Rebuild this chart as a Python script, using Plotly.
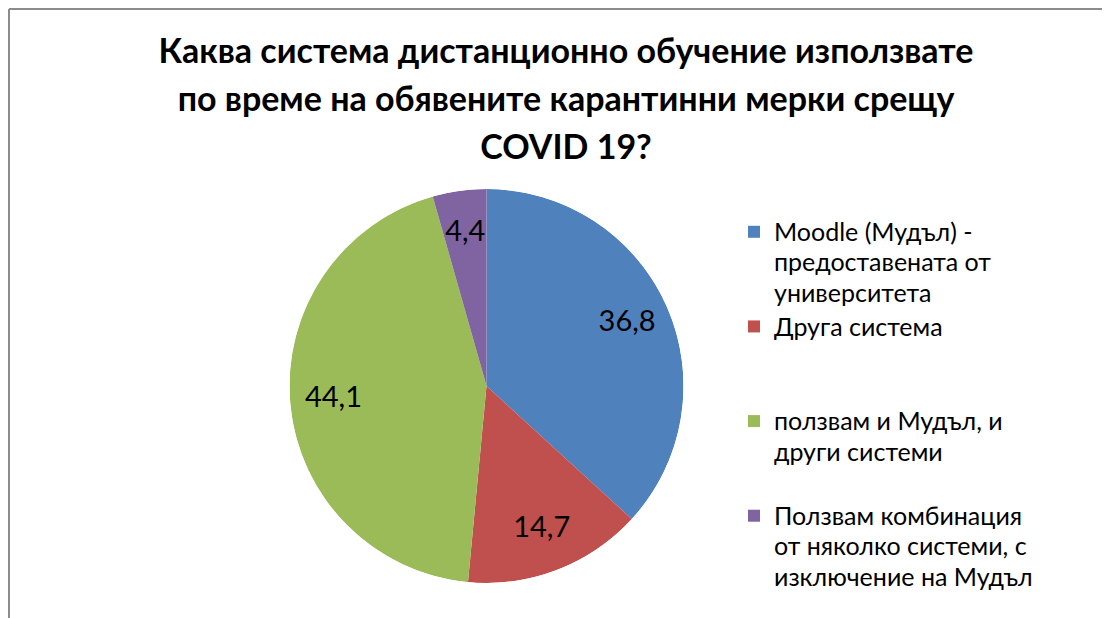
import plotly.graph_objects as go

# ---- data ----
categories = [
    "Moodle (Мудъл) - предоставената от университета",
    "Друга система",
    "ползвам и Мудъл, и други системи",
    "Ползвам комбинация от няколко системи, с изключение на Мудъл",
]
legend_lines = [
    ["Moodle (Мудъл) -", "предоставената от", "университета"],
    ["Друга система"],
    ["ползвам и Мудъл, и", "други системи"],
    ["Ползвам комбинация", "от няколко системи, с", "изключение на Мудъл"],
]
values = [36.8, 14.7, 44.1, 4.4]
colors = ["#4F81BD", "#C0504D", "#9BBB59", "#8064A2"]
title_lines = [
    "Каква система дистанционно обучение използвате",
    "по време на обявените карантинни мерки срещу",
    "COVID 19?",
]

# page body has an 8px margin; figure is sized to fit the window
W, H = 1102, 610
OFF = 8
FONT = "Lato"

total = sum(values)
thetas, widths = [], []
start = 0.0
for v in values:
    thetas.append((start + v / 2) / total * 360)
    widths.append(v / total * 360)
    start += v

fig = go.Figure()

for i, (cat, v) in enumerate(zip(categories, values)):
    lines = legend_lines[i] + ["\u00a0"] * (3 - len(legend_lines[i]))
    name = "<br>".join(
        f"<span style='font-size:25px'>{ln}</span>" if ln != "\u00a0" else ln
        for ln in lines
    )
    fig.add_trace(go.Barpolar(
        r=[1], theta=[thetas[i]], width=[widths[i]],
        marker=dict(color=colors[i], line=dict(width=0)),
        name=name, hovertext=[cat], hoverinfo="text",
    ))

fig.add_trace(go.Scatterpolar(
    r=[0.78] * len(values), theta=thetas, mode="text",
    text=[f"{v:.1f}".replace(".", ",") for v in values],
    textfont=dict(family=FONT, size=29, color="black"),
    textposition="middle center", showlegend=False, hoverinfo="skip",
))

cx, cy, R = 486.5 - OFF, 386 - OFF, 197
title_text = "<br>".join(f"<span style='font-size:34px'>{t}</span>" for t in title_lines)

fig.update_layout(
    width=W, height=H,
    margin=dict(l=0, r=0, t=0, b=0),
    paper_bgcolor="white",
    plot_bgcolor="white",
    font=dict(family=FONT, color="black"),
    title=dict(
        text=title_text, x=(566 - OFF) / W, xanchor="center", xref="container",
        y=1 - 55 / H, yanchor="top", yref="container",
        font=dict(family=FONT, size=36.8, color="black", weight="bold"),
    ),
    polar=dict(
        domain=dict(x=[(cx - R) / W, (cx + R) / W], y=[1 - (cy + R) / H, 1 - (cy - R) / H]),
        bgcolor="rgba(0,0,0,0)",
        bargap=0,
        radialaxis=dict(range=[0, 1], visible=False),
        angularaxis=dict(rotation=90, direction="clockwise", visible=False),
    ),
    legend=dict(
        x=726 / W, xanchor="left", y=1 - 202 / H, yanchor="top",
        font=dict(family=FONT, size=23.5, color="black"),
        valign="top", bgcolor="rgba(0,0,0,0)",
        traceorder="normal",
    ),
    shapes=[
        dict(type="line", xref="paper", yref="paper", x0=1 / W, x1=1.0, y0=1 - 1 / H, y1=1 - 1 / H,
             line=dict(color="#8C8C8C", width=2)),
        dict(type="line", xref="paper", yref="paper", x0=1 / W, x1=1 / W, y0=0, y1=1 - 1 / H,
             line=dict(color="#8C8C8C", width=2)),
    ],
)

fig.write_html("out.html")
